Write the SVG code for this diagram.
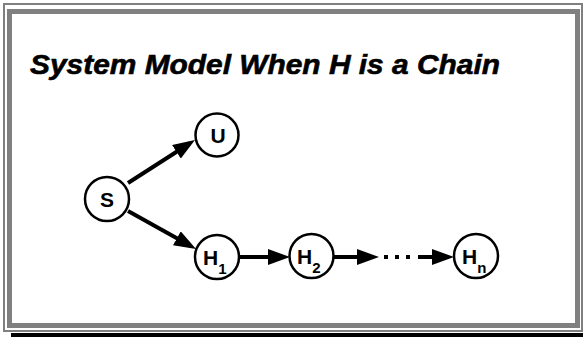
<svg xmlns="http://www.w3.org/2000/svg" width="583" height="337" viewBox="0 0 583 337">
<defs>
<style>
.frame{fill:none;stroke:#808080}
.node{fill:#fff;stroke:#000;stroke-width:2.5}
.lbl{font-family:"Liberation Sans",Arial,sans-serif;font-weight:bold;font-size:21px;fill:#000}
.sub{font-size:15px}
.edge{stroke:#000;stroke-width:4;fill:none}
.title{font-family:"Liberation Sans",Arial,sans-serif;font-weight:bold;font-style:italic;font-size:28px;fill:#000;stroke:#000;stroke-width:0.6}
</style>
<marker id="ah" markerUnits="userSpaceOnUse" markerWidth="22" markerHeight="16" refX="16" refY="8" orient="auto">
<path d="M0,0 L22,8 L0,16 z" fill="#000"/>
</marker>
</defs>
<rect width="583" height="337" fill="#fff"/>
<rect class="frame" x="4" y="4" width="578" height="327" stroke-width="2"/>
<rect class="frame" x="9.5" y="11.5" width="568" height="314" stroke-width="5"/>
<rect x="11" y="333" width="572" height="4" fill="#000"/>
<text class="title" x="30" y="74" textLength="470" lengthAdjust="spacingAndGlyphs">System Model When H is a Chain</text>
<g id="connectors">
<line class="edge" x1="128" y1="183" x2="189.9" y2="143.2" marker-end="url(#ah)"/>
<line class="edge" x1="128" y1="211" x2="190.8" y2="246.1" marker-end="url(#ah)"/>
<line class="edge" x1="239" y1="257" x2="284" y2="257" marker-end="url(#ah)"/>
<line class="edge" x1="333" y1="257" x2="373" y2="257" marker-end="url(#ah)"/>
<g fill="#000"><rect x="384" y="255" width="4" height="4"/><rect x="395" y="255" width="4" height="4"/><rect x="406" y="255" width="4" height="4"/></g>
<line class="edge" x1="418" y1="257" x2="448" y2="257" marker-end="url(#ah)"/>
</g>
<g id="node-S"><circle class="node" cx="107" cy="199" r="22"/><text class="lbl" x="107" y="207" text-anchor="middle">S</text></g>
<g id="node-U"><circle class="node" cx="217" cy="135" r="21.5"/><text class="lbl" x="218" y="143" text-anchor="middle">U</text></g>
<g id="node-H1"><circle class="node" cx="217" cy="257" r="22"/><text class="lbl" x="203" y="265">H<tspan class="sub" dy="9">1</tspan></text></g>
<g id="node-H2"><circle class="node" cx="311.5" cy="256" r="22"/><text class="lbl" x="297" y="264">H<tspan class="sub" dy="9">2</tspan></text></g>
<g id="node-Hn"><circle class="node" cx="476" cy="256" r="22"/><text class="lbl" x="462" y="264">H<tspan class="sub" dy="9">n</tspan></text></g>
</svg>
